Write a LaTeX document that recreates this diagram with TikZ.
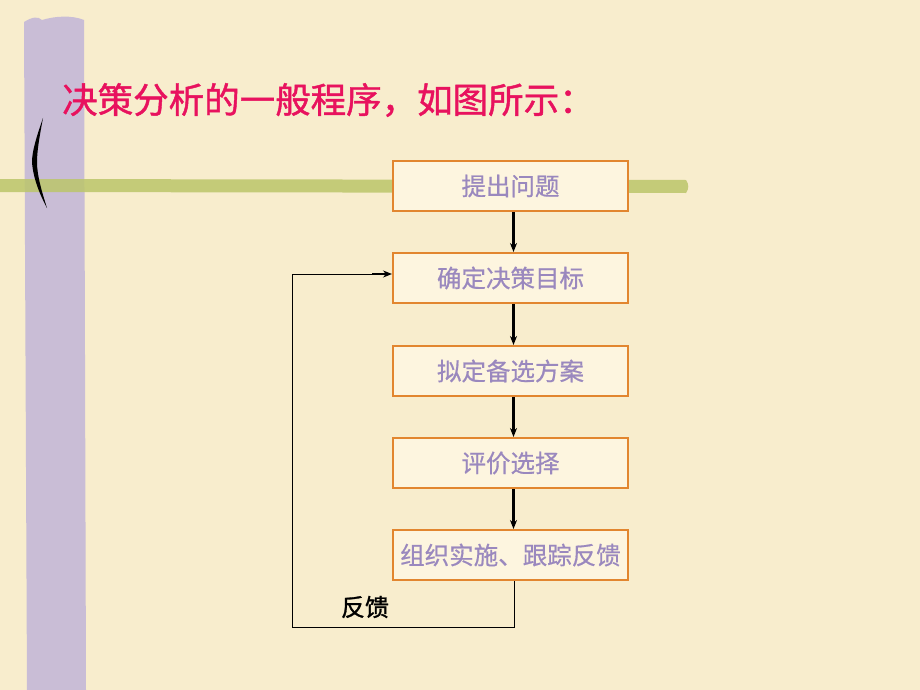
\documentclass[tikz,border=0pt]{standalone}
\usepackage{fontspec}
\setmainfont{Noto Sans CJK SC}
\newfontfamily\boxfont{Noto Sans CJK SC}[FakeBold=0.6]
\newfontfamily\titlefont{Noto Sans CJK SC}[FakeBold=1.2]
\usetikzlibrary{arrows.meta}
\definecolor{bgc}{HTML}{F8EDCD}
\definecolor{barpurple}{HTML}{C9BDD6}
\definecolor{bargreen}{HTML}{BCC66A}
\definecolor{titlec}{HTML}{E8125E}
\definecolor{boxfill}{HTML}{FDF5DF}
\definecolor{boxline}{HTML}{E2862F}
\definecolor{boxtext}{HTML}{9A88BE}
\tikzset{
  stepbox/.style={draw=boxline, line width=2pt, fill=boxfill, minimum width=235pt, minimum height=50pt, inner sep=0pt, text=boxtext, font=\boxfont\fontsize{24.5}{28}\selectfont},
  flow/.style={-{Stealth[length=9pt,width=7pt]}, line width=2.4pt, black},
  fb/.style={line width=1pt, black}
}
\begin{document}
\begin{tikzpicture}[x=1pt,y=-1pt]
\fill[bgc] (0,0) rectangle (920,690);
\useasboundingbox (0,0) rectangle (920,690);
% purple vertical bar
\fill[barpurple] (24,22) .. controls (32,17) and (38,16) .. (42,20) .. controls (55,16) and (72,15) .. (84,20) -- (86,690) -- (27,690) -- cycle;
% green horizontal bar
\fill[bargreen, opacity=0.85] (0,179) -- (686,180) .. controls (689,184) and (689,189) .. (686,193) -- (0,192) -- cycle;
% bracket
\fill[black] (43,118) .. controls (36,138) and (32,152) .. (32,162) .. controls (33,178) and (40,195) .. (47,208) .. controls (42,192) and (37,176) .. (37,162) .. controls (37,150) and (40,134) .. (43,118) -- cycle;
% title
\node[anchor=west, text=titlec, font=\titlefont\fontsize{35.5}{40}\selectfont, inner sep=0pt] (title) at (62,100) {决策分析的一般程序，如图所示：};
% boxes
\node[stepbox] (b1) at (510.5,186) {提出问题};
\node[stepbox] (b2) at (510.5,278) {确定决策目标};
\node[stepbox] (b3) at (510.5,371) {拟定备选方案};
\node[stepbox] (b4) at (510.5,463) {评价选择};
\node[stepbox] (b5) at (510.5,555) {组织实施、跟踪反馈};
\draw[flow] ([xshift=3pt]b1.south) -- ([xshift=3pt]b2.north);
\draw[flow] ([xshift=3pt]b2.south) -- ([xshift=3pt]b3.north);
\draw[flow] ([xshift=3pt]b3.south) -- ([xshift=3pt]b4.north);
\draw[flow] ([xshift=3pt]b4.south) -- ([xshift=3pt]b5.north);
% feedback loop
\coordinate (c1) at (514,627);
\coordinate (c2) at (292,627);
\coordinate (c3) at (292,274);
\coordinate (c4) at (372,274);
\draw[fb] ([xshift=3.5pt]b5.south) -- (c1) -- (c2) -- (c3) -- (c4);
\draw[flow] (c4) -- ([yshift=4pt]b2.west);
\node[font=\titlefont\fontsize{24}{28}\selectfont, inner sep=0pt] (fbl) at (365,607) {反馈};
\end{tikzpicture}
\end{document}
